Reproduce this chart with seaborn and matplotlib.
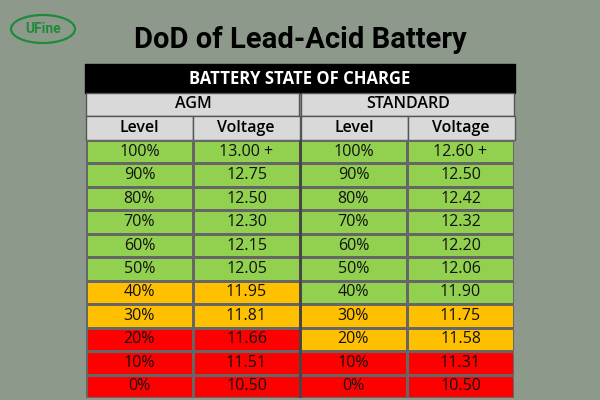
import matplotlib
matplotlib.use("Agg")
import matplotlib.pyplot as plt
from matplotlib.colors import ListedColormap
from matplotlib.patches import Rectangle, Ellipse
import numpy as np
import seaborn as sns

levels = ["100%", "90%", "80%", "70%", "60%", "50%", "40%", "30%", "20%", "10%", "0%"]
agm_volt = ["13.00 +", "12.75", "12.50", "12.30", "12.15", "12.05", "11.95", "11.81", "11.66", "11.51", "10.50"]
std_volt = ["12.60 +", "12.50", "12.42", "12.32", "12.20", "12.06", "11.90", "11.75", "11.58", "11.31", "10.50"]
# 0 = green, 1 = orange, 2 = red
agm_band = [0, 0, 0, 0, 0, 0, 1, 1, 2, 2, 2]
std_band = [0, 0, 0, 0, 0, 0, 0, 1, 1, 2, 2]

BG = "#8d9a8b"
FONT = "Open Sans"
fig = plt.figure(figsize=(6, 4), dpi=100, facecolor=BG)

# logo, title and header rows drawn in pixel coords
lax = fig.add_axes([0, 0, 1, 1], facecolor="none")
lax.set_xlim(0, 600); lax.set_ylim(400, 0); lax.axis("off")
lax.add_patch(Ellipse((43, 29), 64, 28, fill=False, ec="#1f8a3c", lw=1.6))
lax.text(43, 29, "UFine", color="#1f8a3c", fontsize=10, fontweight="bold", ha="center", va="center",
         family="Roboto")
lax.text(300, 40, "DoD of Lead-Acid Battery", fontsize=21, fontweight="bold",
         ha="center", va="center", color="black", family="Roboto", stretch="condensed")

lax.add_patch(Rectangle((85, 64), 430, 29, fc="black", ec="black"))
lax.text(300, 79, "BATTERY STATE OF CHARGE", color="white", fontsize=12, fontweight="bold",
         ha="center", va="center", family=FONT)
for x0, lab in [(86, "AGM"), (301, "STANDARD")]:
    lax.add_patch(Rectangle((x0, 93), 213, 23, fc="#d9d9d9", ec="#555555", lw=1))
    lax.text(x0 + 107, 104.5, lab, fontsize=11.5, ha="center", va="center", family=FONT, fontweight="semibold")
for x0 in [86, 193, 301, 408]:
    lax.add_patch(Rectangle((x0, 116), 107, 24, fc="#d9d9d9", ec="#555555", lw=1))
    lax.text(x0 + 53, 128, "Level" if x0 in (86, 301) else "Voltage", fontsize=11.5,
             ha="center", va="center", family=FONT, fontweight="semibold")

# data cells
codes = np.array([agm_band, agm_band, std_band, std_band]).T
annot = np.array([levels, agm_volt, levels, std_volt]).T
ax = fig.add_axes([86 / 600, 2 / 400, 428 / 600, 258 / 400])
sns.heatmap(codes, ax=ax, cmap=ListedColormap(["#92d050", "#ffc000", "#ff0000"]), vmin=-0.5, vmax=2.5,
            annot=annot, fmt="", cbar=False, linewidths=0.8, linecolor="#666666",
            annot_kws={"fontsize": 11.5, "color": "#111111", "family": FONT})
ax.set_xticks([]); ax.set_yticks([])
ax.axvline(2, color="#444444", lw=2)
fig.savefig("out.png", dpi=100, facecolor=BG)
